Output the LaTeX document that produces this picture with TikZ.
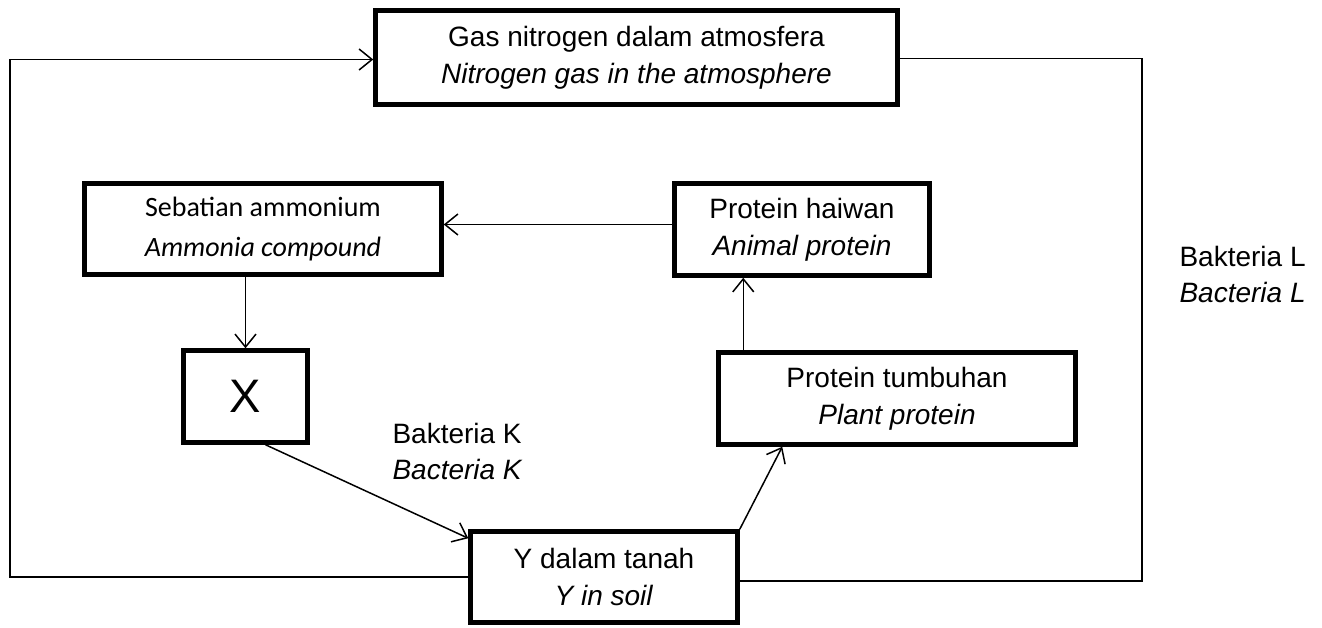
\documentclass[tikz,border=0pt]{standalone}
\usepackage{fontspec}
\setmainfont{Liberation Sans}
\newfontfamily\calibri{Carlito}
\usetikzlibrary{arrows.meta}
\begin{document}
\begin{tikzpicture}[x=1pt,y=-1pt,>={Straight Barb[length=13pt,width=21pt]},
	kotak/.style={draw,line width=4.5pt,inner sep=0pt,align=center,font=\fontsize{28}{37}\selectfont},
	label/.style={align=left,anchor=west,font=\fontsize{28}{36}\selectfont},
	garis/.style={line width=1.5pt}]
	\useasboundingbox (0,0) rectangle (1322,628);
	% kotak
	\node[kotak,minimum width=522pt,minimum height=94pt] (gas) at (636.5,57.5) {Gas nitrogen dalam atmosfera\\\textit{Nitrogen gas in the atmosphere}};
	\node[kotak,minimum width=357pt,minimum height=91pt,font=\calibri\fontsize{28}{40}\selectfont] (amm) at (263,229) {Sebatian ammonium\\\textit{Ammonia compound}};
	\node[kotak,minimum width=124pt,minimum height=92pt,font=\fontsize{47}{50}\selectfont] (x) at (245.5,396.5) {X};
	\node[kotak,minimum width=255pt,minimum height=92pt] (haiwan) at (802,229.5) {Protein haiwan\\\textit{Animal protein}};
	\node[kotak,minimum width=357pt,minimum height=92pt] (tumbuhan) at (897,398.5) {Protein tumbuhan\\\textit{Plant protein}};
	\node[kotak,minimum width=267pt,minimum height=91pt] (tanah) at (604,577) {Y dalam tanah\\\textit{Y in soil}};
	\node[label] (bk) at (389,451) {Bakteria K\\\textit{Bacteria K}};
	\node[label] (bl) at (1176,274) {Bakteria L\\\textit{Bacteria L}};
	\coordinate (kiri) at (10,0);
	\coordinate (kanan) at (1142,0);
	% anak panah
	\draw[garis,->] (tanah.west) -- (tanah.west -| kiri) |- ([yshift=-2pt]gas.west);
	\draw[garis] ([yshift=-1pt]gas.east) -- ([yshift=-1pt]gas.east -| kanan) |- ([yshift=-4pt]tanah.east);
	\draw[garis,->] ([yshift=5pt]haiwan.west) -- ([yshift=5pt]haiwan.west -| amm.east);
	\draw[garis,->] (x.north |- amm.south) -- (x.north);
	\draw[garis,->] ([xshift=20pt]x.south) -- ([yshift=-9pt]tanah.north west);
	\draw[garis,->] (tanah.north east) -- ([xshift=66pt]tumbuhan.south west);
	\draw[garis,->] ([xshift=27pt]tumbuhan.north west) -- ([xshift=27pt]tumbuhan.north west |- haiwan.south);
\end{tikzpicture}
\end{document}
